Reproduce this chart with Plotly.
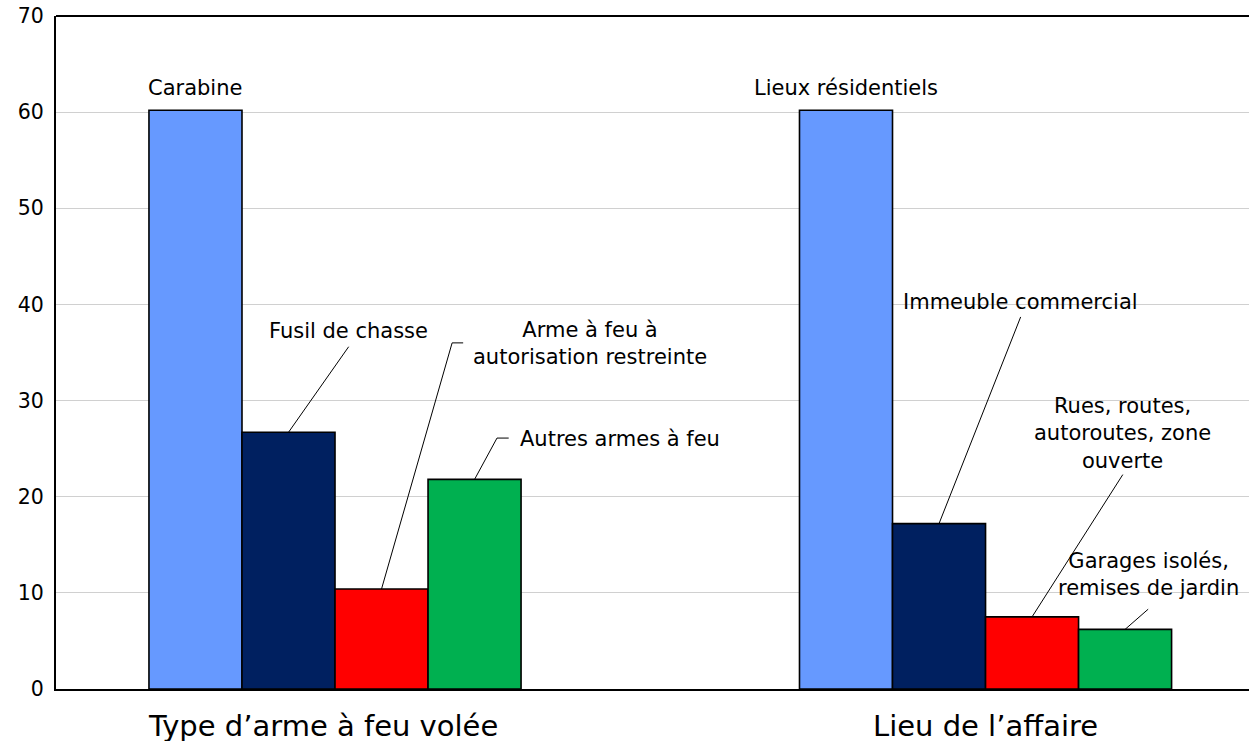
import plotly.graph_objects as go

categories = ["Type d’arme à feu volée", "Lieu de l’affaire"]
series_names = ["S1", "S2", "S3", "S4"]
series_values = [
    [60.2, 60.2],
    [26.7, 17.2],
    [10.4, 7.5],
    [21.8, 6.2],
]
bar_labels = [
    ["Carabine", "Lieux résidentiels"],
    ["Fusil de chasse", "Immeuble commercial"],
    ["Arme à feu à<br>autorisation restreinte", "Rues, routes,<br>autoroutes, zone<br>ouverte"],
    ["Autres armes à feu", "Garages isolés,<br>remises de jardin"],
]
colors = ["#6699FF", "#002060", "#FF0000", "#00B050"]

# label placement (layout only): (x offset from category index, y, xanchor)
label_pos = [
    [(-0.215, 62.5, "center"), (0.786, 62.5, "center")],
    [(0.020, 37.2, "center"), (1.053, 40.25, "center")],
    [(0.392, 35.9, "center"), (1.211, 26.6, "center")],
    [(0.281, 26.0, "left"), (1.251, 11.86, "center")],
]
# leader line top end (x, y) and optional horizontal tail end x
leader_top = [
    [None, None],
    [(0.021, 35.6, None), (1.054, 38.7, None)],
    [(0.180, 36.0, 0.197), (1.211, 22.3, None)],
    [(0.249, 26.1, 0.267), (1.250, 8.3, None)],
]

bargap = 0.428
group_w = 1 - bargap
bar_w = group_w / len(series_values)

FONT = "DejaVu Sans, Verdana, sans-serif"

fig = go.Figure()
for k, vals in enumerate(series_values):
    fig.add_trace(go.Bar(
        x=categories, y=vals, name=series_names[k],
        marker=dict(color=colors[k], line=dict(color="black", width=1.6)),
        showlegend=False, hoverinfo="y",
    ))

font_lbl = dict(family=FONT, size=21, color="black")
annotations = []
shapes = []
for k, vals in enumerate(series_values):
    for g, v in enumerate(vals):
        lx, ly, anc = label_pos[k][g]
        annotations.append(dict(x=lx, y=ly, xref="x", yref="y", text=bar_labels[k][g],
                                showarrow=False, xanchor=anc, yanchor="middle",
                                align="center", font=font_lbl))
        lt = leader_top[k][g]
        if lt is not None:
            bx = g - group_w / 2 + (k + 0.5) * bar_w
            tx, ty, tail = lt
            shapes.append(dict(type="line", xref="x", yref="y", x0=bx, y0=v, x1=tx, y1=ty,
                               line=dict(color="black", width=1)))
            if tail is not None:
                shapes.append(dict(type="line", xref="x", yref="y", x0=tx, y0=ty, x1=tail, y1=ty,
                                   line=dict(color="black", width=1)))

# category labels
cat_shift = [-12, 0]
for i, c in enumerate(categories):
    annotations.append(dict(x=i, y=0, xref="x", yref="paper", text=c, showarrow=False,
                            xanchor="center", yanchor="top", yshift=-18, xshift=cat_shift[i],
                            font=dict(family=FONT, size=29, color="black")))

# top frame line
shapes.append(dict(type="line", xref="paper", yref="paper", x0=0, x1=1, y0=1, y1=1,
                   line=dict(color="black", width=2)))

fig.update_layout(
    width=1249, height=741,
    margin=dict(l=56, r=0, t=16, b=52, autoexpand=False),
    paper_bgcolor="white", plot_bgcolor="white",
    barmode="group", bargap=bargap, bargroupgap=0,
    annotations=annotations, shapes=shapes,
    xaxis=dict(range=[-0.4289, 1.405], showticklabels=False, ticks="", automargin=False,
               showline=True, linecolor="black", linewidth=2, showgrid=False, zeroline=False),
    yaxis=dict(range=[0, 70], dtick=10, showgrid=True, gridcolor="#d0d0d0", gridwidth=1,
               showline=True, linecolor="black", linewidth=2, zeroline=False, ticks="",
               ticklabelstandoff=6, ticklabeloverflow="allow", automargin=False,
               tickfont=dict(family=FONT, size=20.5, color="black")),
)

fig.write_html("out.html", config={"displayModeBar": False},
               post_script="document.body.style.margin='0';document.body.style.overflow='hidden';")
